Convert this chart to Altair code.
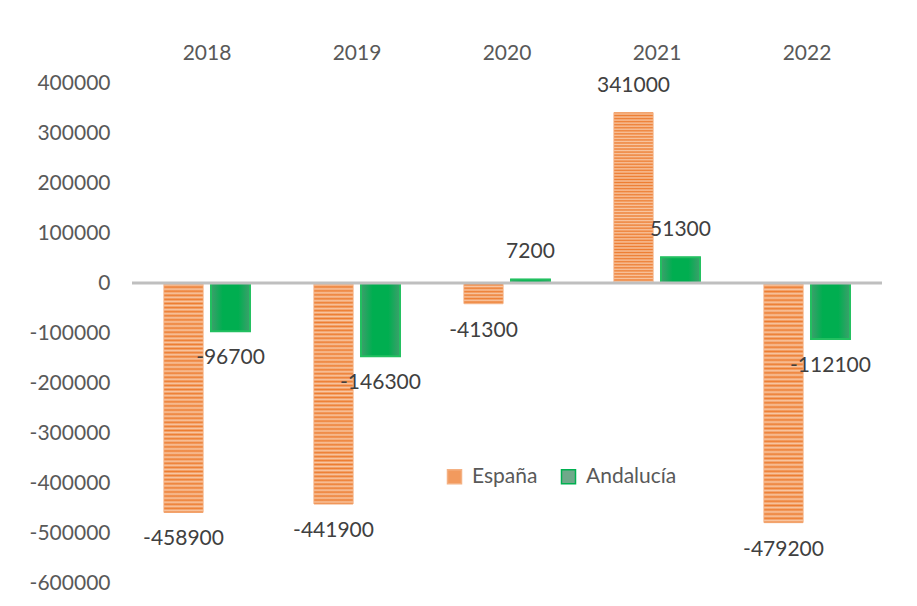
import altair as alt
import pandas as pd

years = ["2018", "2019", "2020", "2021", "2022"]
espana = [-458900, -441900, -41300, 341000, -479200]
andalucia = [-96700, -146300, 7200, 51300, -112100]
series = ["España", "Andalucía"]
y_ticks = [400000, 300000, 200000, 100000, 0, -100000, -200000, -300000, -400000, -500000, -600000]

rows = []
for y, e, a in zip(years, espana, andalucia):
    rows.append({"year": y, "series": "España", "value": e, "label": str(e)})
    rows.append({"year": y, "series": "Andalucía", "value": a, "label": str(a)})
df = pd.DataFrame(rows)

FONT = "Lato"

# striped orange fill (style only)
N = 56
stops = []
for k in range(2 * N + 1):
    stops.append({"offset": k / (2 * N), "color": "#ED7D31" if k % 2 == 0 else "#F8C6A2"})
stripe_fill = {"gradient": "linear", "x1": 0, "y1": 0, "x2": 0, "y2": 1, "stops": stops}
green_fill = {"gradient": "linear", "x1": 0, "y1": 0, "x2": 1, "y2": 0,
              "stops": [{"offset": 0, "color": "#3E9F6C"},
                        {"offset": 0.3, "color": "#00AE50"},
                        {"offset": 0.7, "color": "#00AE50"},
                        {"offset": 1, "color": "#3E9F6C"}]}

x_enc = alt.X("year:N", sort=years,
              scale=alt.Scale(paddingInner=0.427, paddingOuter=0.2135),
              axis=alt.Axis(orient="top", title=None, labelAngle=0, domain=False, ticks=False,
                            labelFont=FONT, labelFontSize=21, labelColor="#595959",
                            labelPadding=20))
xoff = alt.XOffset("series:N", sort=series,
                   scale=alt.Scale(domain=series, paddingInner=0.17, paddingOuter=0))
y_enc = alt.Y("value:Q", scale=alt.Scale(domain=[-600000, 400000], nice=False, zero=False),
              axis=alt.Axis(title=None, values=y_ticks, domain=False, ticks=False, grid=False,
                            labelFont=FONT, labelFontSize=21, labelColor="#595959",
                            labelPadding=22, labelExpr="'' + datum.value"))

base = alt.Chart(df)

legend_bars = base.mark_bar().encode(
    x=x_enc, xOffset=xoff, y=y_enc,
    fill=alt.Fill("series:N", sort=series,
                  scale=alt.Scale(domain=series, range=["#F29A5E", "#6FA98A"]),
                  legend=alt.Legend(title=None, orient="none", legendX=312, legendY=383,
                                    direction="horizontal", symbolType="square",
                                    symbolSize=196, symbolStrokeWidth=1.5,
                                    labelFont=FONT, labelFontSize=21, labelColor="#595959",
                                    columnPadding=20, labelOffset=7, padding=0)),
    stroke=alt.Stroke("series:N", sort=series,
                      scale=alt.Scale(domain=series, range=["#F4B183", "#00B050"]),
                      legend=None),
)

esp_bars = base.transform_filter(alt.datum.series == "España").mark_bar(
    fill=stripe_fill, stroke="#F4B183", strokeWidth=0.5).encode(x=x_enc, xOffset=xoff, y=y_enc)
and_bars = base.transform_filter(alt.datum.series == "Andalucía").mark_bar(
    fill=green_fill, stroke="#22C060", strokeWidth=2).encode(x=x_enc, xOffset=xoff, y=y_enc)

zero = alt.Chart(pd.DataFrame({"z": [0]})).mark_rule(color="#BFBFBF", strokeWidth=3).encode(
    y=alt.Y("z:Q"))

text_common = dict(font=FONT, fontSize=21, color="#404040", align="center", baseline="middle")
pos_text = base.transform_filter(alt.datum.value >= 0).mark_text(dy=-27, **text_common).encode(
    x=x_enc, xOffset=xoff, y=y_enc, text="label:N")
neg_text = base.transform_filter(alt.datum.value < 0).mark_text(dy=27, **text_common).encode(
    x=x_enc, xOffset=xoff, y=y_enc, text="label:N")

chart = alt.layer(legend_bars, esp_bars, and_bars, zero, pos_text, neg_text).properties(
    width=750, height=500,
    background="white",
    autosize=alt.AutoSizeParams(type="none"),
    padding={"left": 124, "top": 75, "right": 20, "bottom": 10},
).configure_view(stroke="transparent", strokeWidth=0)

chart.save("out.html", embed_options={"renderer": "svg", "actions": False})
